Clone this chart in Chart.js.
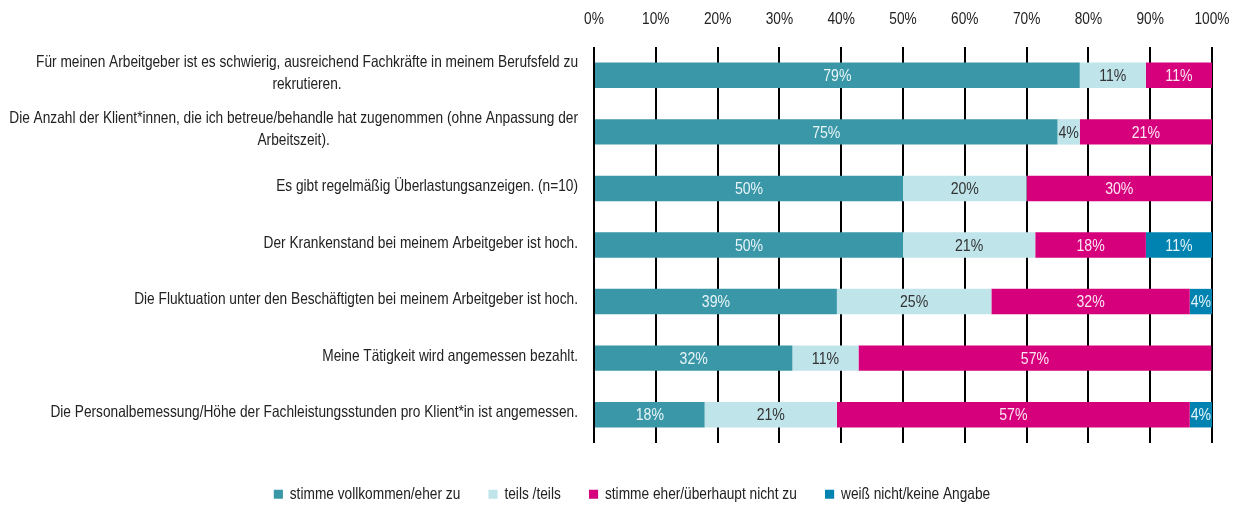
<!DOCTYPE html>
<html lang="de">
<head>
<meta charset="utf-8">
<title>Arbeitsbedingungen</title>
<script src="https://cdn.jsdelivr.net/npm/chart.js@4"></script>
<style>
  body { margin: 0; background: #fff; }
  #wrap { width: 1246px; height: 506px; }
</style>
</head>
<body>
<div id="wrap"><canvas id="chart" width="1246" height="506"></canvas></div>
<script>
// Aussagen (Zeilen), mehrzeilige als Array
const categories = [
  ['Für meinen Arbeitgeber ist es schwierig, ausreichend Fachkräfte in meinem Berufsfeld zu', 'rekrutieren.'],
  ['Die Anzahl der Klient*innen, die ich betreue/behandle hat zugenommen (ohne Anpassung der', 'Arbeitszeit).'],
  'Es gibt regelmäßig Überlastungsanzeigen. (n=10)',
  'Der Krankenstand bei meinem Arbeitgeber ist hoch.',
  'Die Fluktuation unter den Beschäftigten bei meinem Arbeitgeber ist hoch.',
  'Meine Tätigkeit wird angemessen bezahlt.',
  'Die Personalbemessung/Höhe der Fachleistungsstunden pro Klient*in ist angemessen.'
];

const seriesNames = ['stimme vollkommen/eher zu', 'teils /teils', 'stimme eher/überhaupt nicht zu', 'weiß nicht/keine Angabe'];

// Anteile in Prozent
const stimmeZu    = [78.6, 75.0, 50, 50.0, 39.3, 32.1, 17.9];
const teilsTeils  = [10.7,  3.6, 20, 21.4, 25.0, 10.7, 21.4];
const stimmeNicht = [10.7, 21.4, 30, 17.9, 32.1, 57.1, 57.1];
const weissNicht  = [ 0,    0,    0, 10.7,  3.6,  0,    3.6];

const xTicks = [0, 10, 20, 30, 40, 50, 60, 70, 80, 90, 100];

const colors = ['#3a97a8', '#bfe4ea', '#d6007d', '#0083b0'];
const labelColors = ['#e8f5f7', '#333333', '#fbe6f1', '#e6f4f9'];

// keine schmale Schrift installiert -> Liberation Sans horizontal gestaucht
const FONT = "'Liberation Sans', Arial, sans-serif";
const SQUEEZE = 0.83;
const TEXT = '#222222';

function narrowText(ctx, text, x, y) {
  ctx.save();
  ctx.translate(x, y);
  ctx.scale(SQUEEZE, 1);
  ctx.fillText(text, 0, 0);
  ctx.restore();
}

// Prozentwerte in die Balken schreiben
const segmentLabels = {
  id: 'segmentLabels',
  afterDatasetsDraw(chart) {
    const ctx = chart.ctx;
    ctx.save();
    ctx.font = '17px ' + FONT;
    ctx.textAlign = 'center';
    ctx.textBaseline = 'middle';
    chart.data.datasets.forEach((ds, di) => {
      const meta = chart.getDatasetMeta(di);
      meta.data.forEach((bar, i) => {
        const v = ds.data[i];
        if (!v) return;
        const { x, base, y } = bar.getProps(['x', 'base', 'y'], true);
        ctx.fillStyle = labelColors[di];
        narrowText(ctx, Math.round(v) + '%', (x + base) / 2, y + 1);
      });
    });
    ctx.restore();
  }
};

// Kategorien links (mehrzeilige zentriert), Prozent-Achse oben
const axisText = {
  id: 'axisText',
  afterDraw(chart) {
    const ctx = chart.ctx;
    const yScale = chart.scales.y;
    const xScale = chart.scales.x;
    const right = chart.chartArea.left - 16;
    const lineH = 22;
    ctx.save();
    ctx.font = '16.5px ' + FONT;
    ctx.fillStyle = TEXT;
    ctx.textAlign = 'center';
    ctx.textBaseline = 'middle';
    categories.forEach((label, i) => {
      const lines = Array.isArray(label) ? label : [label];
      const w = Math.max(...lines.map(l => ctx.measureText(l).width)) * SQUEEZE;
      const cx = right - w / 2;
      const yc = yScale.getPixelForTick(i) - 2;
      lines.forEach((l, k) => {
        narrowText(ctx, l, cx, yc + (k - (lines.length - 1) / 2) * lineH);
      });
    });
    xTicks.forEach(v => {
      narrowText(ctx, v + '%', xScale.getPixelForValue(v), 19);
    });
    ctx.restore();
  }
};

// Legende: schmal stauchen und unter die Grafik setzen
const legendShift = {
  id: 'legendShift',
  beforeDraw(chart) {
    const lg = chart.legend;
    if (!lg || lg._shifted) return;
    const draw = lg.draw.bind(lg);
    lg.draw = function() {
      const ctx = chart.ctx;
      const mid = (lg.left + lg.right) / 2;
      ctx.save();
      ctx.translate(632, 9);
      ctx.scale(SQUEEZE, 1);
      ctx.translate(-mid, 0);
      draw();
      ctx.restore();
    };
    lg._shifted = true;
  }
};

new Chart(document.getElementById('chart'), {
  type: 'bar',
  data: {
    labels: categories,
    datasets: [stimmeZu, teilsTeils, stimmeNicht, weissNicht].map((d, i) => ({
      label: seriesNames[i],
      data: d,
      backgroundColor: colors[i],
      borderWidth: 0,
      barPercentage: 0.45,
      categoryPercentage: 1
    }))
  },
  options: {
    indexAxis: 'y',
    responsive: false,
    animation: false,
    layout: { padding: { top: 0, right: 34, left: 0, bottom: 2.5 } },
    scales: {
      x: {
        position: 'top',
        stacked: true,
        min: 0,
        max: 100,
        afterBuildTicks(scale) { scale.ticks = xTicks.map(v => ({ value: v })); },
        afterFit(scale) { scale.height = 47; },
        ticks: { display: false },
        grid: { color: '#000', lineWidth: 2, drawTicks: false },
        border: { display: false }
      },
      y: {
        stacked: true,
        afterFit(scale) { scale.width = 594; },
        ticks: { display: false },
        grid: { display: false },
        border: { display: false }
      }
    },
    plugins: {
      legend: {
        position: 'bottom',
        labels: {
          boxWidth: 11,
          boxHeight: 9,
          padding: 34,
          color: TEXT,
          font: { family: FONT, size: 16.5 }
        }
      },
      tooltip: { enabled: false }
    }
  },
  plugins: [segmentLabels, axisText, legendShift]
});
</script>
</body>
</html>
